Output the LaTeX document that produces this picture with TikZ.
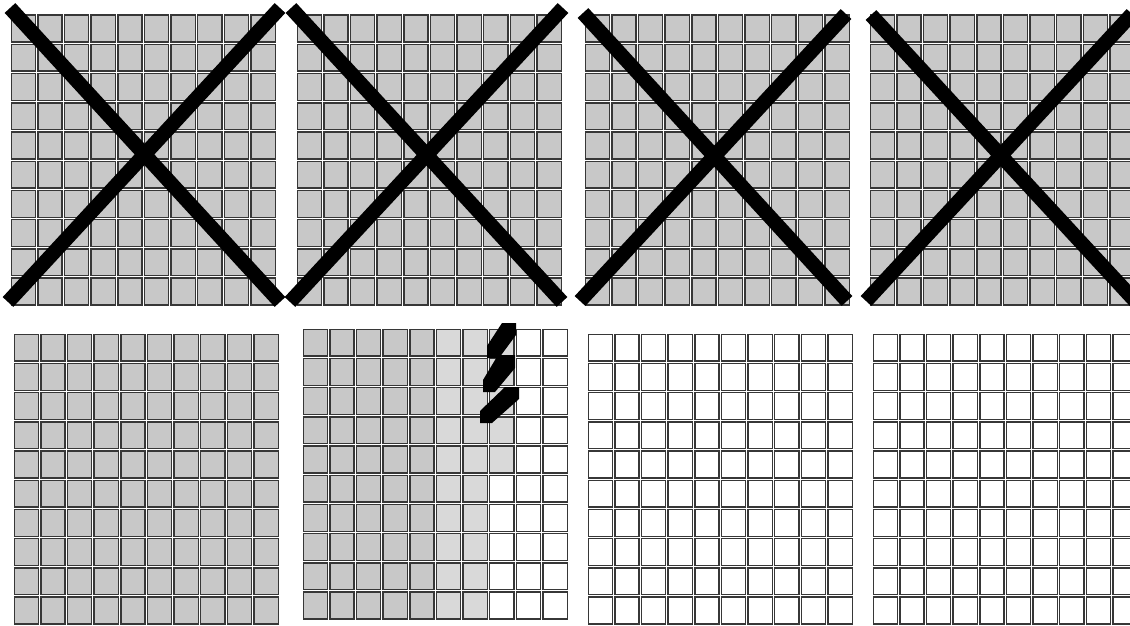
\documentclass[tikz,border=0pt]{standalone}
\usepackage{tikz}

\definecolor{cellgray}{RGB}{200,200,200}
\definecolor{cellpale}{RGB}{217,217,217}
\definecolor{celledge}{RGB}{55,55,55}

% block of cells: x, y (top left of grid), columns, rows, fill
\newcommand{\cellblock}[5]{%
  \foreach \i in {#3} \foreach \j in {#4}
    \draw[cellbox,fill=#5] ({#1+\i*26.65+1.2},{#2+\j*29.2+1.2}) rectangle ++(24.25,26.8);
}

\begin{document}
\begin{tikzpicture}[x=1pt, y=-1pt,
    cellbox/.style={draw=celledge, line width=1.4pt},
    cross/.style={line width=14.5pt, line cap=butt, black},
    slash/.style={fill=black}]
    \fill[white] (0,0) rectangle (1130,626);
    \useasboundingbox (0,0) rectangle (1130,626);

    % top row, crossed out
    \cellblock{10}{14}{0,...,9}{0,...,9}{cellgray}
    \cellblock{296}{14}{0,...,9}{0,...,9}{cellgray}
    \cellblock{584}{14}{0,...,9}{0,...,9}{cellgray}
    \cellblock{869}{14}{0,...,9}{0,...,9}{cellgray}
    \draw[cross] (10,8) -- (280,302);
    \draw[cross] (280,8) -- (8,302);
    \draw[cross] (291,8) -- (562,302);
    \draw[cross] (563,8) -- (290,302);
    \draw[cross] (583,13) -- (847,301);
    \draw[cross] (846,14) -- (580,301);
    \draw[cross] (871,15) -- (1136,302);
    \draw[cross] (1132,14) -- (866,301);

    % bottom row
    \cellblock{13}{333}{0,...,9}{0,...,9}{cellgray}
    \cellblock{302}{328}{0,...,4}{0,...,9}{cellgray}
    \cellblock{302}{328}{5,6}{0,...,9}{cellpale}
    \cellblock{302}{328}{7}{0,...,4}{cellpale}
    \cellblock{302}{328}{7}{5,...,9}{white}
    \cellblock{302}{328}{8,9}{0,...,9}{white}
    \cellblock{587}{333}{0,...,9}{0,...,9}{white}
    \cellblock{872}{333}{0,...,9}{0,...,9}{white}

    % strokes
    \fill[slash] (502,323) -- (516,323) -- (516,335) -- (499,358) -- (487,358) -- (487,346) -- cycle;
    \fill[slash] (498,355) -- (515,355) -- (515,368) -- (495,392) -- (483,392) -- (483,380) -- cycle;
    \fill[slash] (505,387) -- (519,387) -- (519,399) -- (492,423) -- (480,423) -- (480,411) -- cycle;
\end{tikzpicture}
\end{document}
